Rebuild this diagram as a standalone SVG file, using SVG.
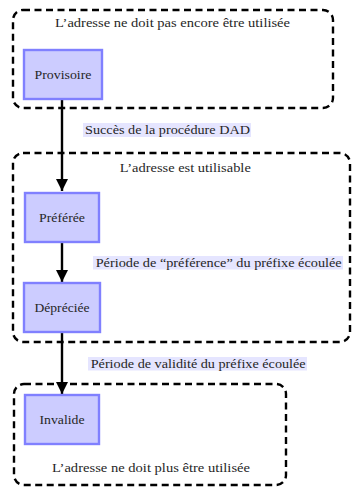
<svg xmlns="http://www.w3.org/2000/svg" width="353" height="487" viewBox="0 0 353 487" font-family="'Liberation Serif', 'DejaVu Serif', serif">
<style>
.region{fill:none;stroke:#000;stroke-width:2.4;stroke-dasharray:7 4.5}
.node rect{fill:#ccccff;stroke:#8080ff;stroke-width:2.4}
.t{font-family:"Liberation Serif","DejaVu Serif",serif;font-size:13px;fill:#262626}
.lbl{fill:#e5e5ff}
.edge{stroke:#000;stroke-width:2.4;fill:none}
</style>
<defs>
<marker id="arr" markerWidth="12" markerHeight="12" refX="10" refY="5" orient="auto" markerUnits="userSpaceOnUse" viewBox="0 0 10 10">
<path d="M0,0 L10,5 L0,10 z" fill="#000"/>
</marker>
</defs>
<g id="region-provisoire">
<rect class="region" x="13" y="10" width="320" height="98" rx="10"/>
<text class="t" x="172.5" y="27" text-anchor="middle" textLength="235" lengthAdjust="spacingAndGlyphs">L’adresse ne doit pas encore être utilisée</text>
</g>
<g id="region-utilisable">
<rect class="region" x="13" y="153" width="337" height="189" rx="10"/>
<text class="t" x="185.3" y="172" text-anchor="middle" textLength="131" lengthAdjust="spacingAndGlyphs">L’adresse est utilisable</text>
</g>
<g id="region-invalide">
<rect class="region" x="14" y="384" width="272" height="101" rx="10"/>
<text class="t" x="151" y="472" text-anchor="middle" textLength="198" lengthAdjust="spacingAndGlyphs">L’adresse ne doit plus être utilisée</text>
</g>
<g id="connectors">
<line class="edge" x1="62" y1="100" x2="62" y2="191" marker-end="url(#arr)"/>
<line class="edge" x1="62" y1="243" x2="62" y2="282" marker-end="url(#arr)"/>
<line class="edge" x1="62" y1="333" x2="62" y2="394" marker-end="url(#arr)"/>
<rect class="lbl" x="83" y="123" width="168" height="14"/>
<text class="t" x="85" y="134" textLength="165" lengthAdjust="spacingAndGlyphs">Succès de la procédure DAD</text>
<rect class="lbl" x="93" y="256" width="250" height="13.5"/>
<text class="t" x="95.7" y="266.5" textLength="246" lengthAdjust="spacingAndGlyphs">Période de “préférence” du préfixe écoulée</text>
<rect class="lbl" x="88" y="357" width="219" height="13.5"/>
<text class="t" x="90.7" y="367.5" textLength="215" lengthAdjust="spacingAndGlyphs">Période de validité du préfixe écoulée</text>
</g>
<g id="provisoire" class="node">
<rect x="24" y="50" width="78" height="49"/>
<text class="t" x="63" y="78.5" text-anchor="middle" textLength="57" lengthAdjust="spacingAndGlyphs">Provisoire</text>
</g>
<g id="preferee" class="node">
<rect x="25" y="193" width="74" height="49"/>
<text class="t" x="62" y="221.5" text-anchor="middle" textLength="46" lengthAdjust="spacingAndGlyphs">Préférée</text>
</g>
<g id="depreciee" class="node">
<rect x="24" y="283" width="76" height="49"/>
<text class="t" x="62" y="311.5" text-anchor="middle" textLength="55" lengthAdjust="spacingAndGlyphs">Dépréciée</text>
</g>
<g id="invalide" class="node">
<rect x="25" y="395" width="74" height="49"/>
<text class="t" x="62" y="423.5" text-anchor="middle" textLength="45" lengthAdjust="spacingAndGlyphs">Invalide</text>
</g>
</svg>
